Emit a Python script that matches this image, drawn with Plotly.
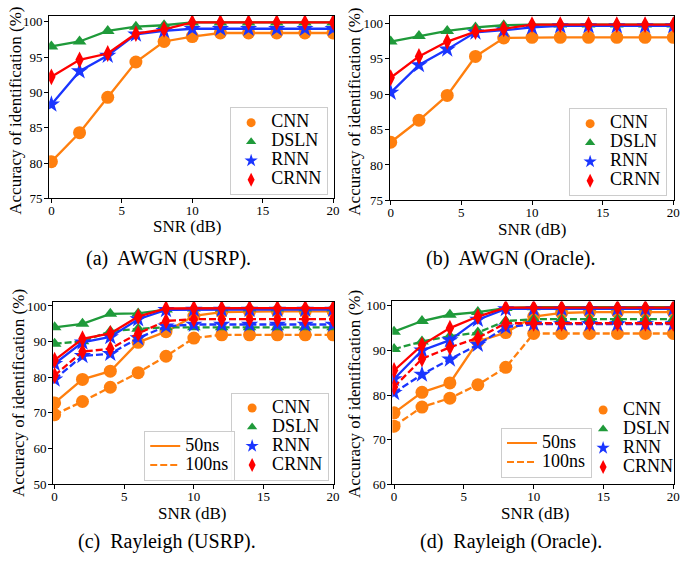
import plotly.graph_objects as go

# ---------------- data ----------------
snr = [0, 2, 4, 6, 8, 10, 12, 14, 16, 18, 20]
models = ["CNN", "DSLN", "RNN", "CRNN"]

# (a) AWGN (USRP)
a_cnn = [80.2, 84.3, 89.3, 94.3, 97.2, 97.9, 98.4, 98.4, 98.4, 98.4, 98.4]
a_dsln = [96.5, 97.2, 98.7, 99.3, 99.5, 99.9, 99.9, 99.9, 99.9, 99.9, 99.9]
a_rnn = [88.3, 93.0, 95.2, 98.2, 98.7, 99.0, 99.0, 99.0, 99.0, 99.0, 99.0]
a_crnn = [92.2, 94.6, 95.5, 98.3, 98.9, 99.9, 99.9, 99.9, 99.9, 99.9, 99.9]

# (b) AWGN (Oracle)
b_cnn = [83.2, 86.3, 89.8, 95.3, 97.9, 98.0, 98.0, 98.0, 98.0, 98.0, 98.0]
b_dsln = [97.4, 98.2, 98.9, 99.4, 99.7, 99.8, 99.8, 99.8, 99.8, 99.8, 99.8]
b_rnn = [90.2, 94.1, 96.3, 98.7, 99.0, 99.4, 99.6, 99.6, 99.6, 99.6, 99.6]
b_crnn = [92.3, 95.3, 97.4, 98.8, 99.2, 99.8, 99.8, 99.8, 99.8, 99.8, 99.8]

# (c) Rayleigh (USRP): 50ns / 100ns
c_cnn_50 = [72.8, 79.4, 81.7, 89.8, 92.8, 97.2, 98.3, 98.5, 98.5, 98.5, 98.5]
c_cnn_100 = [69.5, 73.2, 77.2, 81.3, 85.9, 91.0, 91.9, 91.9, 91.9, 91.9, 91.9]
c_dsln_50 = [94.0, 95.0, 97.8, 97.9, 99.0, 99.3, 99.3, 99.3, 99.3, 99.3, 99.3]
c_dsln_100 = [89.4, 90.1, 92.9, 93.6, 94.0, 94.0, 94.0, 94.0, 94.0, 94.0, 94.0]
c_rnn_50 = [83.8, 89.8, 91.3, 96.3, 98.9, 99.0, 99.0, 99.0, 99.0, 99.0, 99.0]
c_rnn_100 = [79.4, 86.0, 86.6, 91.0, 94.3, 94.8, 94.8, 94.8, 94.8, 94.8, 94.8]
c_crnn_50 = [84.8, 90.8, 92.3, 97.0, 99.3, 99.4, 99.4, 99.4, 99.4, 99.4, 99.4]
c_crnn_100 = [80.5, 87.2, 88.0, 92.3, 95.8, 96.3, 96.3, 96.3, 96.3, 96.3, 96.3]

# (d) Rayleigh (Oracle): 50ns / 100ns
d_cnn_50 = [76.0, 80.6, 82.7, 92.0, 94.0, 97.6, 98.4, 98.6, 98.6, 98.6, 98.6]
d_cnn_100 = [73.0, 77.3, 79.3, 82.3, 86.2, 93.8, 93.8, 93.8, 93.8, 93.8, 93.8]
d_dsln_50 = [94.2, 96.6, 98.0, 98.6, 99.5, 99.7, 99.7, 99.7, 99.7, 99.7, 99.7]
d_dsln_100 = [90.3, 92.0, 93.2, 94.0, 96.6, 97.0, 97.0, 97.0, 97.0, 97.0, 97.0]
d_rnn_50 = [83.6, 90.0, 92.3, 96.9, 99.3, 99.3, 99.3, 99.3, 99.3, 99.3, 99.3]
d_rnn_100 = [80.5, 84.6, 88.0, 91.3, 95.2, 95.9, 95.9, 95.9, 95.9, 95.9, 95.9]
d_crnn_50 = [85.5, 91.2, 95.0, 97.6, 99.6, 99.6, 99.6, 99.6, 99.6, 99.6, 99.6]
d_crnn_100 = [81.8, 88.1, 90.7, 92.8, 96.1, 96.1, 96.1, 96.1, 96.1, 96.1, 96.1]

delays = ["50ns", "100ns"]
captions = ["(a)  AWGN (USRP).", "(b)  AWGN (Oracle).",
            "(c)  Rayleigh (USRP).", "(d)  Rayleigh (Oracle)."]

# ---------------- styles ----------------
W, H = 683, 566
FONT = "Liberation Serif, Times New Roman, Times, serif"
colors = {"CNN": "#ff7f0e", "DSLN": "#1f9a3a", "RNN": "#1a35ff", "CRNN": "#ff0000"}
symbols = {"CNN": "circle", "DSLN": "triangle-up", "RNN": "star", "CRNN": "diamond-tall"}
sizes = {"CNN": 13, "DSLN": 12, "RNN": 13, "CRNN": 12}
leg_sizes = {"CNN": 9, "DSLN": 9, "RNN": 10, "CRNN": 10}
dashes = {"50ns": "solid", "100ns": "7px,3px"}

def px_x(p):
    return p / W

def px_y(p):
    return 1 - p / H

fig = go.Figure()

# panel geometry (pixels): left, right, top, bottom ; x range ; y range ; y ticks
panels = [
    dict(ax="", l=47.7, r=336, t=13.3, b=199.3, xr=[-0.16, 20.07], yr=[75, 100.8], yt=[75, 80, 85, 90, 95, 100]),
    dict(ax="2", l=392.3, r=680, t=13.3, b=201.3, xr=[-0.07, 20.05], yr=[75, 101.0], yt=[75, 80, 85, 90, 95, 100]),
    dict(ax="3", l=51.7, r=336, t=305, b=490.7, xr=[-0.11, 20.07], yr=[50, 101.1], yt=[50, 60, 70, 80, 90, 100]),
    dict(ax="4", l=395, r=680, t=304.3, b=490.7, xr=[-0.12, 20.05], yr=[60, 101.0], yt=[60, 70, 80, 90, 100]),
]

def add_line(ax, model, y, dash="solid"):
    fig.add_trace(go.Scatter(
        x=snr, y=y, mode="lines+markers", showlegend=False,
        xaxis="x" + ax, yaxis="y" + ax,
        line=dict(color=colors[model], width=2.3, dash=dash),
        marker=dict(symbol=symbols[model], size=sizes[model], color=colors[model],
                    line=dict(width=0)),
        name=model))

def add_model_legend(ax, legend_id):
    for m in models:
        fig.add_trace(go.Scatter(
            x=[None], y=[None], mode="markers", xaxis="x" + ax, yaxis="y" + ax,
            marker=dict(symbol=symbols[m], size=leg_sizes[m], color=colors[m], line=dict(width=0)),
            name='<span style="font-size:18px">' + m + '</span>', legend=legend_id))

def add_delay_legend(ax, legend_id):
    for d in delays:
        fig.add_trace(go.Scatter(
            x=[None], y=[None], mode="lines", xaxis="x" + ax, yaxis="y" + ax,
            line=dict(color=colors["CNN"], width=2, dash=dashes[d]),
            name='<span style="font-size:18px">' + d + '</span>', legend=legend_id))

# (a)
for m, y in zip(models, [a_cnn, a_dsln, a_rnn, a_crnn]):
    add_line("", m, y)
add_model_legend("", "legend")
# (b)
for m, y in zip(models, [b_cnn, b_dsln, b_rnn, b_crnn]):
    add_line("2", m, y)
add_model_legend("2", "legend2")
# (c)
c_series = {"CNN": (c_cnn_50, c_cnn_100), "DSLN": (c_dsln_50, c_dsln_100),
            "RNN": (c_rnn_50, c_rnn_100), "CRNN": (c_crnn_50, c_crnn_100)}
for m in models:
    for d, y in zip(delays, c_series[m]):
        add_line("3", m, y, dashes[d])
add_model_legend("3", "legend3")
add_delay_legend("3", "legend4")
# (d)
d_series = {"CNN": (d_cnn_50, d_cnn_100), "DSLN": (d_dsln_50, d_dsln_100),
            "RNN": (d_rnn_50, d_rnn_100), "CRNN": (d_crnn_50, d_crnn_100)}
for m in models:
    for d, y in zip(delays, d_series[m]):
        add_line("4", m, y, dashes[d])
add_model_legend("4", "legend5")
add_delay_legend("4", "legend6")

layout = dict(
    width=W, height=H, autosize=False,
    margin=dict(l=0, r=0, t=0, b=0),
    paper_bgcolor="white", plot_bgcolor="white",
    font=dict(family=FONT, color="black", size=12),
)

axis_common = dict(showline=True, linecolor="black", linewidth=1, mirror=True,
                   ticks="outside", ticklen=4, tickwidth=1, tickcolor="black",
                   showgrid=False, zeroline=False,
                   tickfont=dict(family=FONT, size=13, color="black"))

for p in panels:
    ax = p["ax"]
    layout["xaxis" + ax] = dict(axis_common, domain=[px_x(p["l"]), px_x(p["r"])],
                                range=p["xr"], tickvals=[0, 5, 10, 15, 20],
                                anchor="y" + ax, ticklabelstandoff=-4)
    layout["yaxis" + ax] = dict(axis_common, domain=[px_y(p["b"]), px_y(p["t"])],
                                range=p["yr"], tickvals=p["yt"], anchor="x" + ax,
                                ticklabelstandoff=-1)

leg_common = dict(font=dict(family=FONT, size=12, color="black"),
                  bgcolor="rgba(255,255,255,0.85)", bordercolor="#cccccc", borderwidth=1,
                  itemwidth=30, tracegroupgap=0, itemclick=False)

layout["legend"] = dict(leg_common, x=px_x(330), y=px_y(196), xanchor="right", yanchor="bottom")
layout["legend2"] = dict(leg_common, x=px_x(673), y=px_y(197), xanchor="right", yanchor="bottom")
layout["legend3"] = dict(leg_common, x=px_x(331), y=px_y(487), xanchor="right", yanchor="bottom")
layout["legend4"] = dict(leg_common, x=px_x(236), y=px_y(487), xanchor="right", yanchor="bottom")
layout["legend5"] = dict(leg_common, x=px_x(588), y=px_y(488), xanchor="left", yanchor="bottom",
                         bgcolor="rgba(0,0,0,0)", borderwidth=0)
layout["legend6"] = dict(leg_common, x=px_x(597), y=px_y(484), xanchor="right", yanchor="bottom")

fig.update_layout(**layout)

# axis titles and captions
xt_pos = [(187, 228), (536, 231), (192, 521), (539, 521)]
yt_pos = [(14, 110), (357, 111), (16, 398), (356, 399)]
cap_pos = [(168, 261), (515, 261), (167, 549), (515, 549)]
for i in range(4):
    fig.add_annotation(text="SNR (dB)", xref="paper", yref="paper",
                       x=px_x(xt_pos[i][0]), y=px_y(xt_pos[i][1]),
                       xanchor="center", yanchor="middle", showarrow=False,
                       font=dict(family=FONT, size=17, color="black"))
    fig.add_annotation(text="Accuracy of identification (%)", xref="paper", yref="paper",
                       x=px_x(yt_pos[i][0]), y=px_y(yt_pos[i][1]), textangle=-90,
                       xanchor="center", yanchor="middle", showarrow=False,
                       font=dict(family=FONT, size=17, color="black"))
    fig.add_annotation(text=captions[i].replace("  ", "&nbsp; "), xref="paper", yref="paper",
                       x=px_x(cap_pos[i][0]), y=px_y(cap_pos[i][1]),
                       xanchor="center", yanchor="middle", showarrow=False,
                       font=dict(family=FONT, size=20, color="black"))

fig.write_html("out.html", config={"displayModeBar": False},
               post_script="document.body.style.margin='0';")
